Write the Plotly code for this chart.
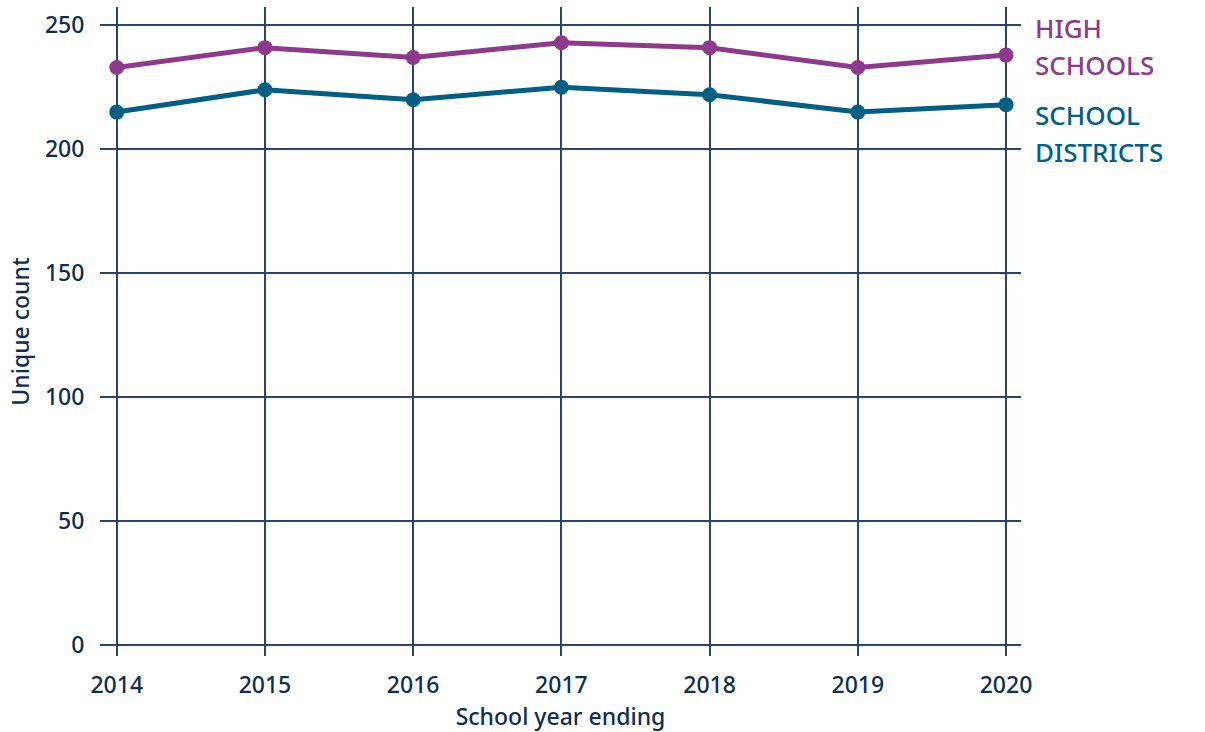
import plotly.graph_objects as go

years = [2014, 2015, 2016, 2017, 2018, 2019, 2020]
high_schools = [233, 241, 237, 243, 241, 233, 238]
school_districts = [215, 224, 220, 225, 222, 215, 218]
y_ticks = [0, 50, 100, 150, 200, 250]

PURPLE = "#8e3a8c"
TEAL = "#005f83"
NAVY = "#0e2d4f"
GRID = "#2a4566"
FONT = "Noto Sans"

fig = go.Figure()
fig.add_trace(go.Scatter(x=years, y=school_districts, mode="lines+markers",
                         line=dict(color=TEAL, width=5),
                         marker=dict(color=TEAL, size=15), name="School districts"))
fig.add_trace(go.Scatter(x=years, y=high_schools, mode="lines+markers",
                         line=dict(color=PURPLE, width=5),
                         marker=dict(color=PURPLE, size=15), name="High schools"))

label_lines = [
    ("HIGH", 249.0, PURPLE),
    ("SCHOOLS", 234.0, PURPLE),
    ("SCHOOL", 214.0, TEAL),
    ("DISTRICTS", 199.0, TEAL),
]
for txt, yv, col in label_lines:
    fig.add_annotation(text=txt, xref="paper", x=1.013, xanchor="left",
                       yref="y", y=yv, yanchor="middle", showarrow=False,
                       font=dict(family=FONT, size=26, color=col, weight=500))

fig.update_layout(
    width=1205, height=732,
    margin=dict(l=100, r=184, t=7, b=76),
    paper_bgcolor="white", plot_bgcolor="white",
    showlegend=False,
    font=dict(family=FONT, color=NAVY, size=21),
)
fig.update_xaxes(range=[2013.887, 2020.101], tickvals=years,
                 showgrid=True, gridcolor=GRID, gridwidth=1.5,
                 zeroline=False, showline=False,
                 ticks="outside", ticklen=0, ticklabelstandoff=8,
                 tickfont=dict(family=FONT, size=23, color=NAVY, weight=500),
                 title=dict(text="School year ending", standoff=8,
                            font=dict(family=FONT, size=23, color=NAVY, weight=500)))
fig.update_yaxes(range=[-4.44, 257.4], tickvals=y_ticks,
                 showgrid=True, gridcolor=GRID, gridwidth=1.5,
                 zeroline=False, showline=False,
                 ticks="outside", ticklen=0, ticklabelstandoff=10,
                 tickfont=dict(family=FONT, size=23, color=NAVY, weight=500),
                 title=dict(text="Unique count", standoff=8,
                            font=dict(family=FONT, size=23, color=NAVY, weight=500)))

fig.write_html("out.html", config={"displayModeBar": False},
               post_script="document.body.style.margin='0';")
